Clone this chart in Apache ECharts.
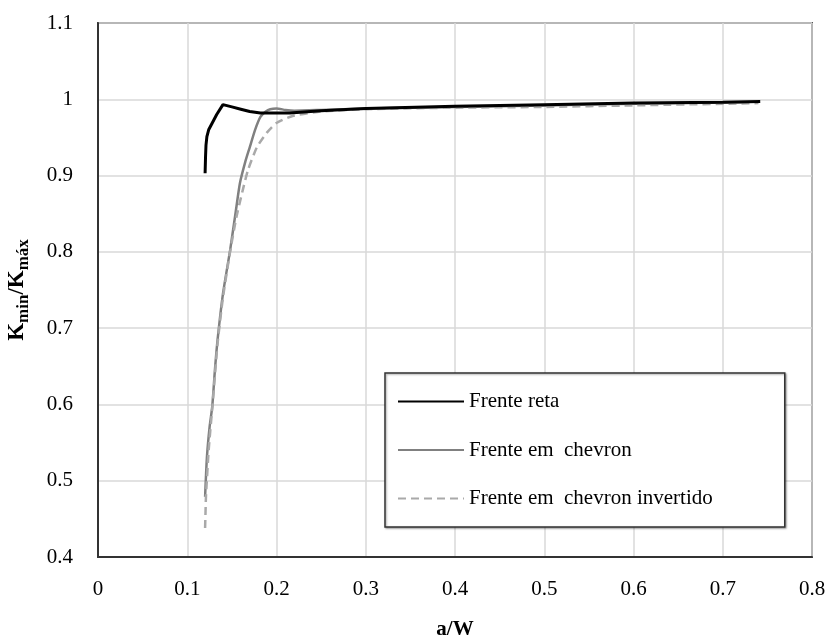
<!DOCTYPE html>
<html><head><meta charset="utf-8">
<script src="https://cdn.jsdelivr.net/npm/echarts@6/dist/echarts.min.js"></script>
<style>html,body{margin:0;padding:0;background:#fff}#c{width:830px;height:637px}</style>
</head><body><div id="c"></div>
<script>
var xTicks = [0, 0.1, 0.2, 0.3, 0.4, 0.5, 0.6, 0.7, 0.8];
var yTicks = [0.4, 0.5, 0.6, 0.7, 0.8, 0.9, 1, 1.1];
var seriesNames = ['Frente reta', 'Frente em  chevron', 'Frente em  chevron invertido'];

var retaX = [0.120,0.1205,0.121,0.122,0.124,0.128,0.133,0.140,0.150,0.160,0.170,0.182,0.200,0.215,0.25,0.3,0.4,0.5,0.6,0.7,0.742];
var retaY = [0.903,0.925,0.940,0.951,0.960,0.969,0.980,0.993,0.990,0.987,0.984,0.982,0.982,0.982,0.985,0.988,0.991,0.993,0.995,0.996,0.997];

var chevX = [0.120,0.122,0.125,0.128,0.131,0.134,0.140,0.148,0.154,0.159,0.165,0.170,0.176,0.182,0.188,0.193,0.200,0.21,0.22,0.25,0.3,0.4,0.5,0.6,0.723];
var chevY = [0.479,0.530,0.570,0.597,0.645,0.685,0.745,0.802,0.850,0.890,0.918,0.937,0.960,0.977,0.984,0.987,0.988,0.986,0.985,0.986,0.988,0.990,0.992,0.994,0.996];

var invX = [0.120,0.1205,0.121,0.124,0.128,0.134,0.140,0.148,0.155,0.162,0.168,0.178,0.189,0.200,0.218,0.25,0.3,0.4,0.5,0.6,0.74];
var invY = [0.438,0.460,0.480,0.540,0.595,0.680,0.740,0.800,0.845,0.880,0.907,0.937,0.956,0.969,0.978,0.984,0.987,0.989,0.990,0.992,0.995];

function pairs(xs, ys){ return xs.map(function(x,i){ return [x, ys[i]]; }); }

var serif = '"Liberation Serif", "DejaVu Serif", serif';
var chart = echarts.init(document.getElementById('c'));
chart.setOption({
  animation: false,
  grid: { left: 98, right: 18, top: 23, bottom: 80, show: true, borderColor: '#555', borderWidth: 2, containLabel: false, outerBoundsMode: 'none' },
  xAxis: {
    type: 'value', min: xTicks[0], max: xTicks[xTicks.length-1], interval: 0.1,
    name: 'a/W', nameLocation: 'middle', nameGap: 62,
    nameTextStyle: { fontFamily: serif, fontWeight: 'bold', fontSize: 21, color: '#000' },
    axisLine: { show: true, lineStyle: { color: '#333', width: 2 } },
    axisTick: { show: false },
    axisLabel: { fontFamily: serif, fontSize: 21, color: '#000', margin: 22, formatter: function(v){ return String(+v.toFixed(1)); } },
    splitLine: { show: true, lineStyle: { color: '#d9d9d9', width: 1.5 } }
  },
  yAxis: {
    type: 'value', min: yTicks[0], max: yTicks[yTicks.length-1], interval: 0.1,
    name: '{b|K}{s|min}{b|/K}{s|máx}', nameLocation: 'middle', nameGap: 66, nameRotate: 90,
    nameTextStyle: { rich: {
      b: { fontFamily: serif, fontWeight: 'bold', fontSize: 23, color: '#000' },
      s: { fontFamily: serif, fontWeight: 'bold', fontSize: 17, color: '#000', verticalAlign: 'bottom', padding: [12,0,0,0] }
    } },
    axisLine: { show: true, lineStyle: { color: '#333', width: 2 } },
    axisTick: { show: false },
    axisLabel: { fontFamily: serif, fontSize: 21, color: '#000', margin: 25, formatter: function(v){ return String(+v.toFixed(1)); } },
    splitLine: { show: true, lineStyle: { color: '#d9d9d9', width: 1.5 } }
  },
  legend: {
    orient: 'vertical', left: 385, top: 373,
    padding: [18, 72, 18, 12], itemGap: 27.5, itemWidth: 66, itemHeight: 14,
    backgroundColor: '#fff', borderColor: '#333', borderWidth: 1.5,
    shadowColor: 'rgba(0,0,0,0.35)', shadowBlur: 2, shadowOffsetX: 1, shadowOffsetY: 1,
    itemStyle: { opacity: 0 },
    textStyle: { fontFamily: serif, fontSize: 21, color: '#000' },
    data: seriesNames
  },
  series: [
    { name: seriesNames[0], type: 'line', data: pairs(retaX, retaY), showSymbol: false, symbol: 'none', z: 4,
      lineStyle: { color: '#000', width: 3 }, itemStyle: { color: '#000' } },
    { name: seriesNames[1], type: 'line', data: pairs(chevX, chevY), showSymbol: false, symbol: 'none', z: 3, smooth: 0.2,
      lineStyle: { color: '#808080', width: 2.5 }, itemStyle: { color: '#808080' } },
    { name: seriesNames[2], type: 'line', data: pairs(invX, invY), showSymbol: false, symbol: 'none', z: 3, smooth: 0.2,
      lineStyle: { color: '#a9a9a9', width: 2.5, type: [8, 5] }, itemStyle: { color: '#a9a9a9' } }
  ]
});
</script></body></html>
